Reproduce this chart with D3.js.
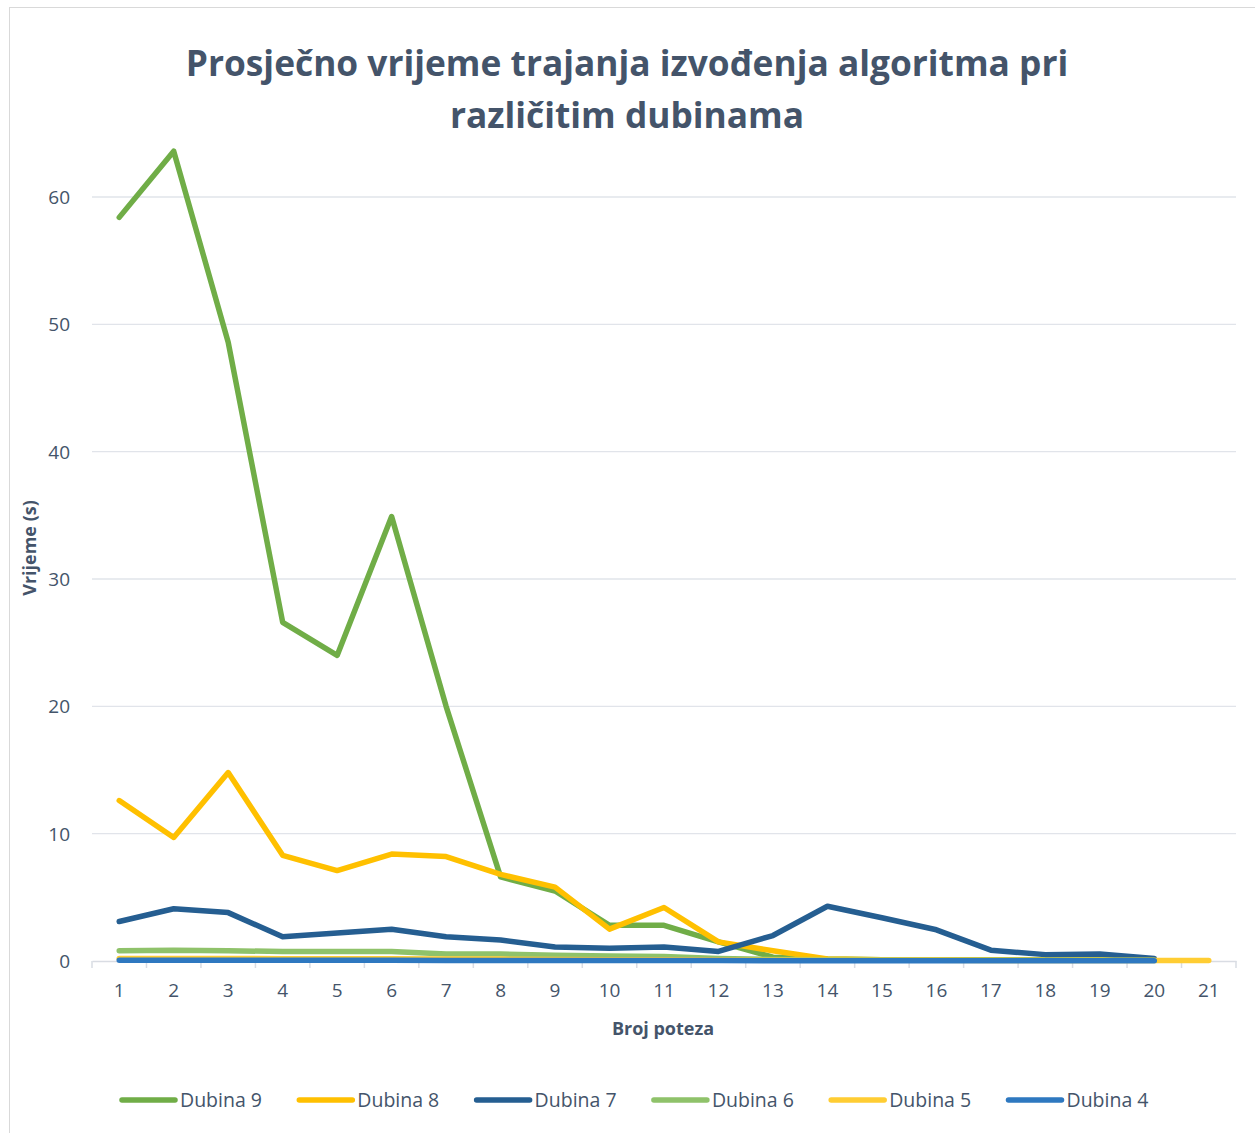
<!DOCTYPE html>
<html>
<head>
<meta charset="utf-8">
<script src="https://cdn.jsdelivr.net/npm/d3@7"></script>
<style>
body { margin: 0; background: white; }
text { font-family: "Open Sans", sans-serif; fill: #44546A; }
</style>
</head>
<body>
<svg id="chart" width="1255" height="1133"></svg>
<script>
var moves = d3.range(1, 22);
var yTicks = [0, 10, 20, 30, 40, 50, 60];

var dubina9 = [58.4, 63.6, 48.6, 26.6, 24.0, 34.9, 20.0, 6.6, 5.5, 2.8, 2.8, 1.5, 0.3, 0.15, 0.1, 0.1, 0.08, 0.08, 0.08, 0.08];
var dubina8 = [12.6, 9.7, 14.8, 8.3, 7.1, 8.4, 8.2, 6.8, 5.8, 2.5, 4.2, 1.5, 0.8, 0.15, 0.1, 0.08, 0.06, 0.06, 0.05, 0.05];
var dubina7 = [3.1, 4.1, 3.8, 1.9, 2.2, 2.5, 1.9, 1.65, 1.1, 1.0, 1.1, 0.75, 2.0, 4.3, 3.4, 2.45, 0.85, 0.5, 0.55, 0.2];
var dubina6 = [0.8, 0.85, 0.8, 0.75, 0.75, 0.75, 0.55, 0.55, 0.45, 0.4, 0.35, 0.2, 0.12, 0.1, 0.1, 0.08, 0.06, 0.05, 0.05, 0.05];
var dubina5 = [0.2, 0.2, 0.2, 0.18, 0.18, 0.18, 0.15, 0.15, 0.12, 0.1, 0.1, 0.08, 0.06, 0.05, 0.05, 0.05, 0.04, 0.04, 0.04, 0.04, 0.04];
var dubina4 = [0.05, 0.05, 0.05, 0.05, 0.05, 0.05, 0.04, 0.04, 0.04, 0.03, 0.03, 0.03, 0.02, 0.02, 0.02, 0.02, 0.02, 0.02, 0.02, 0.02];

var seriesNames = ["Dubina 9", "Dubina 8", "Dubina 7", "Dubina 6", "Dubina 5", "Dubina 4"];
var seriesColors = ["#70AD47", "#FFC000", "#255E91", "#8FC26A", "#FFCD33", "#2E78C0"];
var series = [dubina9, dubina8, dubina7, dubina6, dubina5, dubina4];

var svg = d3.select("#chart");

// chart frame
svg.append("rect")
  .attr("x", 9.5).attr("y", 7.5)
  .attr("width", 1260).attr("height", 1140)
  .attr("fill", "none").attr("stroke", "#D9D9D9");

var x = d3.scaleBand().domain(moves).range([92, 1236]);
var y = d3.scaleLinear().domain([0, 60]).range([961, 197]);

// gridlines
svg.append("g")
  .selectAll("line").data(yTicks.slice(1)).enter().append("line")
  .attr("x1", 92).attr("x2", 1236)
  .attr("y1", function(d) { return y(d); })
  .attr("y2", function(d) { return y(d); })
  .attr("stroke", "#E1E4EA").attr("stroke-width", 1.3);

// y axis labels
var yAxis = svg.append("g")
  .attr("transform", "translate(92,0)")
  .call(d3.axisLeft(y).tickValues(yTicks).tickSize(0).tickPadding(22));
yAxis.select(".domain").remove();
yAxis.selectAll("text")
  .style("font-size", "19px").style("fill", "#44546A")
  .attr("dy", "0.35em");

// x axis
var xAxis = svg.append("g")
  .attr("transform", "translate(0,961)")
  .call(d3.axisBottom(x).tickSize(0).tickPadding(23));
xAxis.select(".domain").attr("stroke", "#D9DCE3").attr("stroke-width", 1.5);
xAxis.selectAll("text").style("font-size", "19px").style("fill", "#44546A");

// tick marks between categories
svg.append("g")
  .selectAll("line").data(d3.range(0, 22)).enter().append("line")
  .attr("x1", function(d) { return 92 + d * x.step(); })
  .attr("x2", function(d) { return 92 + d * x.step(); })
  .attr("y1", 961).attr("y2", 968)
  .attr("stroke", "#D9DCE3").attr("stroke-width", 1.5);

// lines, first series at the back
var line = d3.line()
  .x(function(d, i) { return x(moves[i]) + x.bandwidth() / 2; })
  .y(function(d) { return y(d); });

series.forEach(function(s, k) {
  svg.append("path")
    .datum(s)
    .attr("d", line)
    .attr("fill", "none")
    .attr("stroke", seriesColors[k])
    .attr("stroke-width", 5.5)
    .attr("stroke-linejoin", "round")
    .attr("stroke-linecap", "round");
});

// title
var title = svg.append("text")
  .attr("x", 627).attr("text-anchor", "middle")
  .style("font-size", "35.3px").style("font-weight", "bold");
title.append("tspan").attr("x", 627).attr("y", 76).text("Prosječno vrijeme trajanja izvođenja algoritma pri");
title.append("tspan").attr("x", 627).attr("y", 128).text("različitim dubinama");

// axis titles
svg.append("text")
  .attr("x", 663).attr("y", 1035)
  .attr("text-anchor", "middle")
  .style("font-size", "18px").style("font-weight", "bold")
  .text("Broj poteza");

svg.append("text")
  .attr("transform", "translate(36,548) rotate(-90)")
  .attr("text-anchor", "middle")
  .style("font-size", "18px").style("font-weight", "bold")
  .text("Vrijeme (s)");

// legend
var legend = svg.append("g")
  .selectAll("g").data(seriesNames).enter().append("g")
  .attr("transform", function(d, i) { return "translate(" + (122 + i * 177.3) + ",1100)"; });
legend.append("line")
  .attr("x1", 0).attr("x2", 53).attr("y1", 0).attr("y2", 0)
  .attr("stroke", function(d, i) { return seriesColors[i]; })
  .attr("stroke-width", 5.5).attr("stroke-linecap", "round");
legend.append("text")
  .attr("x", 58).attr("y", 7)
  .style("font-size", "19.5px")
  .text(function(d) { return d; });
</script>
</body>
</html>
